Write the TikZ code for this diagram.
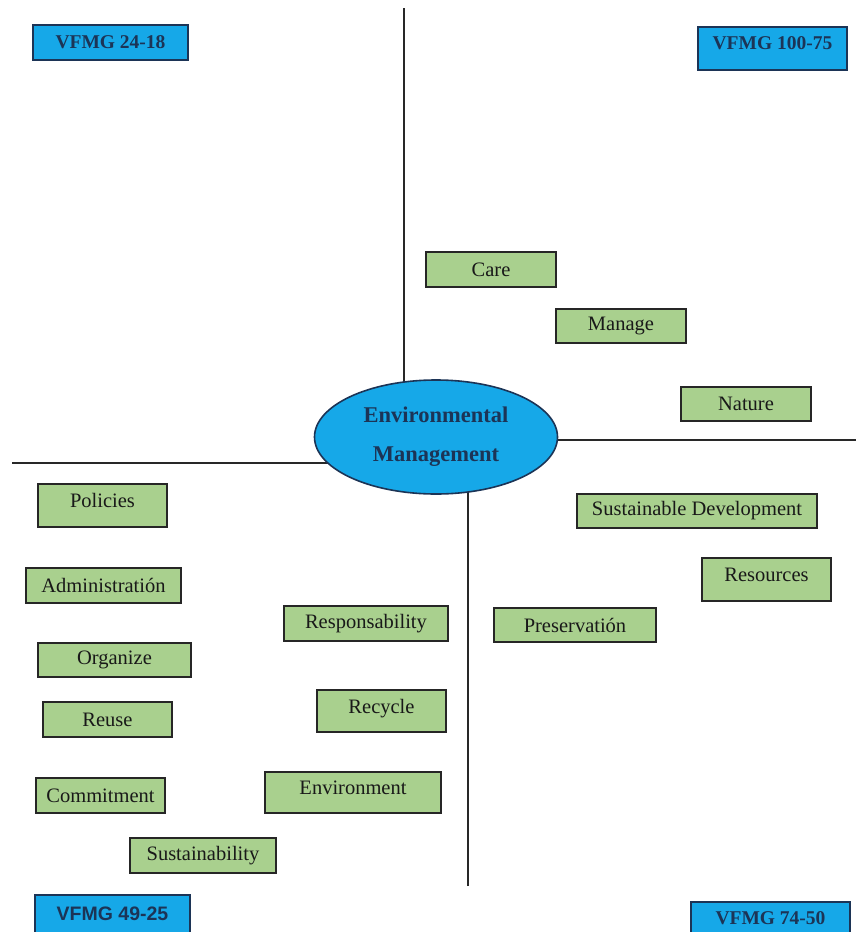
\documentclass[tikz,border=0pt]{standalone}
\usepackage{fontspec}
\setmainfont{Liberation Serif}
\newfontfamily\quadsans{Liberation Sans}
\usetikzlibrary{positioning, shapes.geometric, backgrounds}
\definecolor{termgreen}{RGB}{169,208,142}
\definecolor{coreblue}{RGB}{22,168,232}
\definecolor{inknavy}{RGB}{28,52,86}
\definecolor{axisgray}{RGB}{40,40,40}

\begin{document}
\begin{tikzpicture}[
        x=1pt, y=-1pt,
        term/.style={rectangle, draw=black!85, line width=1.7pt, fill=termgreen, inner sep=0pt, font=\fontsize{20.5}{22}\selectfont, text=black!90},
        raised/.style={text depth=10pt},
        quadbox/.style={rectangle, draw=inknavy, line width=1.7pt, fill=coreblue, inner sep=0pt, font=\fontsize{19.5}{22}\selectfont\bfseries, text=inknavy},
        core/.style={ellipse, draw=inknavy, line width=1.6pt, fill=coreblue, inner sep=0pt, align=center, font=\fontsize{22.5}{39}\selectfont\bfseries, text=inknavy},
        axis/.style={axisgray, line width=1.4pt}
    ]
    \useasboundingbox (0,0) rectangle (856,932);
    \clip (0,0) rectangle (856,932);

    % Centre
    \node[core, minimum width=243, minimum height=114] (em) at (436, 437) {Environmental\\Management};

    % Quadrant labels
    \node[quadbox, minimum width=155, minimum height=35] (q_tl) at (110.5, 42.5) {VFMG 24-18};
    \node[quadbox, raised, minimum width=149, minimum height=43] (q_tr) at (772.5, 48.5) {VFMG 100-75};
    \node[quadbox, minimum width=155, minimum height=38] (q_bl) at (112.5, 914) {\quadsans VFMG 49-25};
    \node[quadbox, minimum width=159, minimum height=32] (q_br) at (770.5, 918) {VFMG 74-50};

    % Upper right quadrant
    \node[term, minimum width=130, minimum height=35] (care) at (491, 269.5) {Care};
    \node[term, minimum width=130, minimum height=34] (manage) at (621, 326) {Manage};
    \node[term, minimum width=130, minimum height=34] (nature) at (746, 404) {Nature};

    % Lower right quadrant
    \node[term, minimum width=240, minimum height=34] (sust_dev) at (697, 511) {Sustainable Development};
    \node[term, raised, minimum width=129, minimum height=43] (resources) at (766.5, 579.5) {Resources};
    \node[term, minimum width=162, minimum height=34] (preserv) at (575, 625) {Preservatión};

    % Lower left quadrant
    \node[term, raised, minimum width=129, minimum height=43] (policies) at (102.5, 505.5) {Policies};
    \node[term, minimum width=155, minimum height=35] (admin) at (103.5, 585.5) {Administratión};
    \node[term, minimum width=164, minimum height=35] (respons) at (366, 623.5) {Responsability};
    \node[term, minimum width=153, minimum height=34] (organize) at (114.5, 660) {Organize};
    \node[term, minimum width=129, minimum height=35] (reuse) at (107.5, 719.5) {Reuse};
    \node[term, raised, minimum width=129, minimum height=42] (recycle) at (381.5, 711) {Recycle};
    \node[term, minimum width=129, minimum height=35] (commit) at (100.5, 795.5) {Commitment};
    \node[term, raised, minimum width=176, minimum height=41] (environ) at (353, 792.5) {Environment};
    \node[term, minimum width=146, minimum height=35] (sustain) at (203, 855.5) {Sustainability};

    % --- Axes ---
    \coordinate (top_end) at (404, 8);
    \coordinate (right_end) at (856, 440);
    \coordinate (left_end) at (12, 463);
    \coordinate (bottom_end) at (468, 886);

    \begin{scope}[on background layer]
        \draw[axis] (top_end) -- (top_end |- em.center);
        \draw[axis] (right_end) -- (right_end -| em.center);
        \draw[axis] (left_end) -- (left_end -| em.center);
        \draw[axis] (bottom_end) -- (bottom_end |- em.center);
    \end{scope}

    \end{tikzpicture}
\end{document}
